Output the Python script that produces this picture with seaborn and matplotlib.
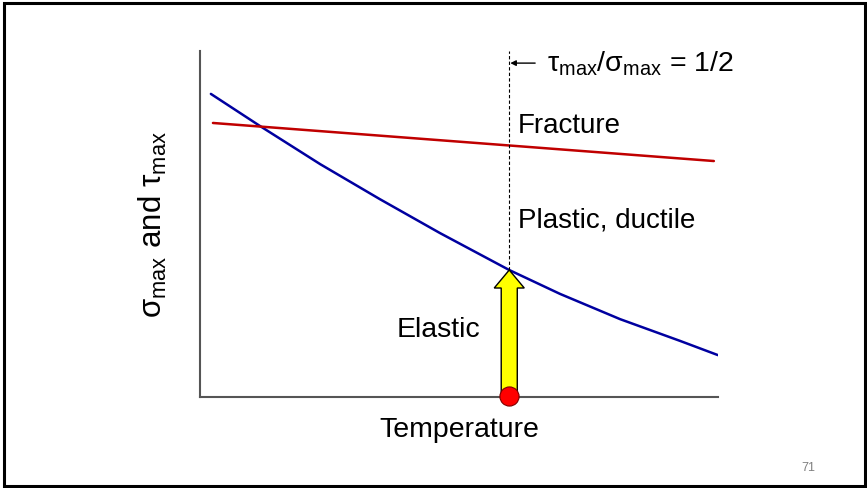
import numpy as np
import pandas as pd
import seaborn as sns
import matplotlib.pyplot as plt
from matplotlib.patches import FancyArrow, Rectangle

# data (temperature and stress in arbitrary units, 0..100)
yield_T = [2.1, 11.6, 23.2, 34.7, 46.3, 59.7, 69.5, 81.1, 92.7, 100.0]
yield_s = [87.6, 78.3, 67.3, 57.2, 47.4, 36.7, 29.8, 22.5, 16.2, 12.1]
fract_T = [2.5, 99.2]
fract_s = [79.2, 68.2]
T_trans = 59.7
s_trans = 36.7

sns.set_theme(style="white")
plt.rcParams['font.family'] = ['Liberation Sans', 'DejaVu Sans']
plt.rcParams['text.color'] = 'black'
plt.rcParams['axes.labelcolor'] = 'black'

fig = plt.figure(figsize=(8.67, 4.89), dpi=100)
ax = fig.add_axes([200/867, 91/489, 518/867, 346/489])
ax.set_xlim(0, 100)
ax.set_ylim(0, 100)

df_y = pd.DataFrame({"T": yield_T, "s": yield_s})
df_f = pd.DataFrame({"T": fract_T, "s": fract_s})
sns.lineplot(data=df_y, x="T", y="s", ax=ax, color="#0000A0", lw=1.8)
sns.lineplot(data=df_f, x="T", y="s", ax=ax, color="#C00000", lw=1.8)

# dashed transition line
ax.plot([T_trans, T_trans], [s_trans, 100], ls=(0, (3, 2)), color="black", lw=0.8)

# yellow arrow
arr = FancyArrow(T_trans, 0, 0, s_trans, width=3.1, head_width=5.8,
                 head_length=5.2, length_includes_head=True,
                 facecolor="#FFFF00", edgecolor="black", lw=1.0, zorder=4)
ax.add_patch(arr)
ax.scatter([T_trans], [0.3], s=190, color="#FF0000", edgecolor="#800000",
           lw=0.8, zorder=5, clip_on=False)

# small arrow + ratio label
ax.annotate("", xy=(T_trans + 0.2, 96.5), xytext=(T_trans + 5.0, 96.5),
            arrowprops=dict(arrowstyle="-|>", color="black", lw=1.0,
                            mutation_scale=8, shrinkA=0, shrinkB=0))
ax.text(67.0, 96.5, r"$\mathregular{\tau_{max}/\sigma_{max}}$ = 1/2",
        fontsize=20.5, va="center", ha="left")

ax.text(61.4, 78.6, "Fracture", fontsize=20, va="center", ha="left")
ax.text(61.4, 51.4, "Plastic, ductile", fontsize=20, va="center", ha="left")
ax.text(38.0, 19.7, "Elastic", fontsize=20.5, va="center", ha="left")

ax.set_xticks([])
ax.set_yticks([])
ax.set_xlabel("Temperature", fontsize=20.5, labelpad=14)
ax.set_ylabel(r"$\mathregular{\sigma_{max}}$ and $\mathregular{\tau_{max}}$",
              fontsize=22.5, labelpad=22)
for side in ["top", "right"]:
    ax.spines[side].set_visible(False)
for side in ["left", "bottom"]:
    ax.spines[side].set_color("#555555")
    ax.spines[side].set_linewidth(1.5)

# slide frame and page number
fig.patches.append(Rectangle((4/867, 2/489), 861/867, 483/489, transform=fig.transFigure,
                             fill=False, edgecolor="black", lw=2.2))
fig.text(808/867, 1 - 468/489, "71", fontsize=9, color="#808080", ha="center", va="center")

fig.savefig("out.png", dpi=100)
